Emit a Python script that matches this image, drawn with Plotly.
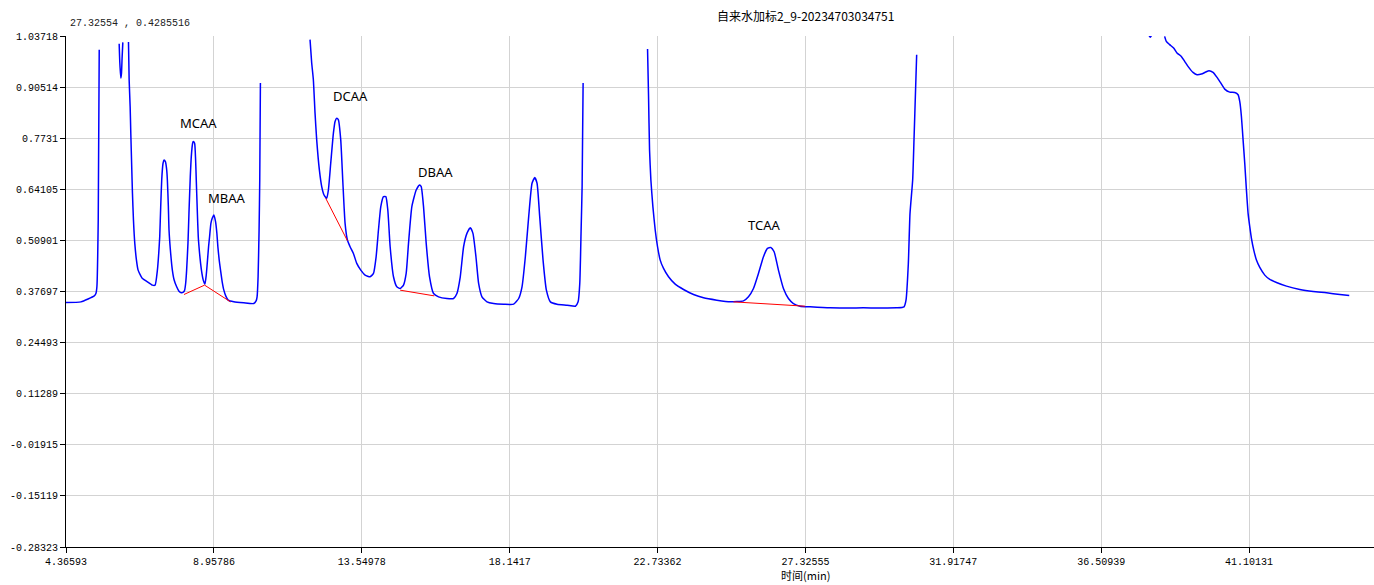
import plotly.graph_objects as go

# ---- tick definitions ----
x_tickvals = [4.36593, 8.95786, 13.54978, 18.1417, 22.73362, 27.32555, 31.91747, 36.50939, 41.10131]
x_ticktext = ["4.36593", "8.95786", "13.54978", "18.1417", "22.73362", "27.32555", "31.91747", "36.50939", "41.10131"]
y_tickvals = [1.03718, 0.90514, 0.7731, 0.64105, 0.50901, 0.37697, 0.24493, 0.11289, -0.01915, -0.15119, -0.28323]
y_ticktext = ["1.03718", "0.90514", "0.7731", "0.64105", "0.50901", "0.37697", "0.24493", "0.11289", "-0.01915", "-0.15119", "-0.28323"]
x_range = [4.36593, 44.98]
y_range = [-0.28323, 1.03718]

# ---- chromatogram segments (time, signal) ----
seg1_t = [4.3659, 4.8303, 5.2430, 5.2946, 5.3255, 5.3668, 5.3978]
seg1_v = [0.3485, 0.3502, 0.3657, 0.3718, 0.3891, 0.5616, 1.0018]

seg2_t = [6.0169, 6.0376, 6.0685, 6.0892, 6.1098, 6.1304]
seg2_v = [1.0173, 0.9673, 0.9284, 0.9414, 0.9845, 1.0208]

seg3_t = [6.3059, 6.3265, 6.3575, 6.3781, 6.4091, 6.4297, 6.4607, 6.5019, 6.5535, 6.6051,
          6.6877, 6.7393, 6.8941, 7.0488, 7.1314, 7.2036, 7.2449, 7.2759, 7.3068, 7.3378,
          7.3790, 7.4100, 7.4513, 7.4926, 7.5132, 7.5442, 7.5648, 7.6164, 7.6680, 7.7196,
          7.8021, 7.8744, 7.9466, 8.0085, 8.0498, 8.0807, 8.1117, 8.1530, 8.1839, 8.2252,
          8.2562, 8.2974, 8.3181, 8.3594, 8.3903, 8.4109, 8.4419, 8.4729, 8.5141, 8.5451,
          8.5864, 8.6276, 8.6792, 8.7205, 8.7515, 8.7928, 8.8237, 8.8650, 8.9063, 8.9579,
          9.0095, 9.0507, 9.0817, 9.1230, 9.1642, 9.2158, 9.2674, 9.3293, 9.4016, 9.5770,
          9.8866, 10.1961, 10.2684, 10.2993, 10.3303, 10.3612, 10.3819, 10.4025]
seg3_v = [1.0216, 0.9241, 0.8551, 0.7860, 0.6911, 0.6307, 0.5617, 0.5013, 0.4581, 0.4322,
          0.4175, 0.4106, 0.4020, 0.3934, 0.3934, 0.4322, 0.4753, 0.5185, 0.5962, 0.6652,
          0.7084, 0.7170, 0.7127, 0.6911, 0.6652, 0.5962, 0.5358, 0.4753, 0.4322, 0.4081,
          0.3891, 0.3778, 0.3735, 0.3752, 0.3804, 0.3977, 0.4322, 0.5013, 0.5789, 0.6739,
          0.7256, 0.7601, 0.7645, 0.7601, 0.7170, 0.6652, 0.5876, 0.5185, 0.4753, 0.4495,
          0.4236, 0.4063, 0.3960, 0.4193, 0.4495, 0.4926, 0.5185, 0.5530, 0.5660, 0.5746,
          0.5574, 0.5272, 0.4926, 0.4581, 0.4322, 0.4020, 0.3804, 0.3649, 0.3545, 0.3502,
          0.3476, 0.3459, 0.3528, 0.3632, 0.4150, 0.5358, 0.6652, 0.9155]

seg4_t = [11.9431, 11.9949, 12.0467, 12.0986, 12.1504, 12.2333, 12.3059, 12.3784, 12.4614, 12.5132,
          12.5858, 12.6687, 12.7205, 12.7723, 12.8242, 12.8967, 12.9589, 13.0315, 13.1041, 13.1870,
          13.2906, 13.3943, 13.5187, 13.6535, 13.8090, 13.9126, 13.9955, 14.0681, 14.1407, 14.2236,
          14.2962, 14.3583, 14.4309, 14.5346, 14.6382, 14.7419, 14.8456, 14.9285, 15.0010, 15.1047,
          15.2395, 15.3431, 15.3949, 15.4675, 15.5504, 15.6541, 15.7785, 15.9340, 16.1931, 16.4005,
          16.5041, 16.6078, 16.7114, 16.8151, 16.9188, 17.0017, 17.0950, 17.1779, 17.2816, 17.4371,
          17.6444, 17.9554, 18.2663, 18.4218, 18.5255, 18.6291, 18.7328, 18.8365, 18.9194, 18.9919,
          19.0749, 19.1785, 19.2822, 19.4066, 19.6139, 19.9249, 20.1840, 20.2670, 20.3188, 20.3603,
          20.3914, 20.4225]
seg4_v = [1.0277, 0.9673, 0.9241, 0.8378, 0.7688, 0.6911, 0.6480, 0.6264, 0.6178, 0.6393,
          0.7084, 0.7860, 0.8163, 0.8249, 0.8206, 0.7688, 0.6652, 0.5530, 0.5099, 0.4926,
          0.4753, 0.4495, 0.4322, 0.4193, 0.4150, 0.4236, 0.4668, 0.5358, 0.5962, 0.6221,
          0.6221, 0.5876, 0.4926, 0.4150, 0.3891, 0.3847, 0.3934, 0.4236, 0.5013, 0.5962,
          0.6393, 0.6523, 0.6480, 0.5962, 0.5013, 0.4150, 0.3718, 0.3632, 0.3589, 0.3589,
          0.3718, 0.4150, 0.4926, 0.5272, 0.5418, 0.5272, 0.4668, 0.3977, 0.3632, 0.3502,
          0.3459, 0.3442, 0.3442, 0.3589, 0.3891, 0.4668, 0.5703, 0.6566, 0.6713, 0.6566,
          0.5703, 0.4581, 0.3804, 0.3502, 0.3442, 0.3416, 0.3390, 0.3502, 0.3977, 0.5358,
          0.6480, 0.9155]

seg5_t = [22.4233, 22.4544, 22.4854, 22.5268, 22.5888, 22.6612, 22.7336, 22.8163, 22.9198, 23.0749,
          23.2817, 23.5403, 23.8505, 24.1608, 24.5745, 24.9882, 25.4018, 25.5570, 25.7121, 25.8672,
          26.0224, 26.1465, 26.2499, 26.3533, 26.4877, 26.6429, 26.7980, 26.9531, 27.1600, 27.4702,
          28.0908, 29.1250, 30.1592, 30.3867, 30.4487, 30.5211, 30.5728, 30.6556, 30.6969, 30.7487,
          30.7797]
seg5_v = [1.0035, 0.8810, 0.7429, 0.6652, 0.5962, 0.5358, 0.4926, 0.4581, 0.4365, 0.4150,
          0.3960, 0.3822, 0.3692, 0.3606, 0.3545, 0.3502, 0.3528, 0.3632, 0.3847, 0.4236,
          0.4668, 0.4883, 0.4909, 0.4797, 0.4322, 0.3847, 0.3589, 0.3459, 0.3390, 0.3373,
          0.3347, 0.3347, 0.3347, 0.3373, 0.3545, 0.4495, 0.5789, 0.6652, 0.7688, 0.9069,
          0.9889]

seg6_t = [37.9917, 38.0332, 38.0747]
seg6_v = [1.0390, 1.0337, 1.0390]

seg7_t = [38.4789, 38.5308, 38.6344, 38.7588, 38.8625, 38.9972, 39.1009, 39.2046, 39.3601, 39.4844,
          39.6192, 39.7540, 39.8576, 39.9820, 40.1064, 40.2101, 40.3448, 40.5003, 40.6558, 40.7595,
          40.8113, 40.8631, 40.9150, 40.9668, 41.0186, 41.0704, 41.1223, 41.1741, 41.2467, 41.3296,
          41.4333, 41.5888, 41.7442, 41.9516, 42.2625, 42.6772, 43.0918, 43.5065, 43.9211, 44.2114]
seg7_v = [1.0363, 1.0234, 1.0148, 1.0061, 0.9932, 0.9845, 0.9716, 0.9587, 0.9431, 0.9371,
          0.9388, 0.9440, 0.9474, 0.9431, 0.9302, 0.9172, 0.9000, 0.8922, 0.8913, 0.8853,
          0.8680, 0.8292, 0.7688, 0.7084, 0.6393, 0.5789, 0.5444, 0.5142, 0.4840, 0.4581,
          0.4391, 0.4193, 0.4081, 0.4003, 0.3908, 0.3822, 0.3770, 0.3735, 0.3692, 0.3666]

# ---- integration baselines (red) ----
base_t = [8.0291, 8.6689, 9.4738, None, 12.4303, 13.1041, None, 14.7419, 15.7992, None, 25.0916, 27.3151]
base_v = [0.3692, 0.3934, 0.3502, None, 0.6178, 0.5082, None, 0.3804, 0.3657, None, 0.3502, 0.3390]

# ---- peak labels ----
peak_names = ["MCAA", "MBAA", "DCAA", "DBAA", "TCAA"]
peak_label_t = [8.4767, 9.3770, 13.2115, 15.8506, 26.0343]
peak_label_v = [0.8127, 0.6186, 0.8834, 0.6866, 0.5487]

title_text = "自来水加标2_9-20234703034751"
cursor_text = "27.32554 , 0.4285516"
xaxis_title = "时间(min)"

segments = [(seg1_t, seg1_v), (seg2_t, seg2_v), (seg3_t, seg3_v), (seg4_t, seg4_v),
            (seg5_t, seg5_v), (seg6_t, seg6_v), (seg7_t, seg7_v)]
all_t, all_v = [], []
for t, v in segments:
    all_t += list(t) + [None]
    all_v += list(v) + [None]

fig = go.Figure()
fig.add_trace(go.Scatter(x=all_t, y=all_v, mode="lines", connectgaps=False,
                         line=dict(color="#0000FF", width=1.5, shape="spline", smoothing=0.5),
                         hoverinfo="skip", showlegend=False))
fig.add_trace(go.Scatter(x=base_t, y=base_v, mode="lines", connectgaps=False,
                         line=dict(color="#FF0000", width=1), hoverinfo="skip", showlegend=False))

annotations = []
for name, t, v in zip(peak_names, peak_label_t, peak_label_v):
    annotations.append(dict(x=t, y=v, xref="x", yref="y", text=name, showarrow=False,
                            font=dict(family="Noto Sans", size=13, color="black"),
                            xanchor="center", yanchor="middle"))
annotations.append(dict(x=0.565, y=1.041, xref="paper", yref="paper", text=title_text,
                        showarrow=False, font=dict(family="Noto Sans CJK SC", size=12, color="black"),
                        xanchor="center", yanchor="middle"))
annotations.append(dict(x=0.0015, y=1.0235, xref="paper", yref="paper", text=cursor_text,
                        showarrow=False, font=dict(family="Liberation Mono", size=10, color="#222222"),
                        xanchor="left", yanchor="middle"))
annotations.append(dict(x=0.565, y=-0.055, xref="paper", yref="paper", text=xaxis_title,
                        showarrow=False, font=dict(family="Noto Sans CJK SC", size=11, color="black"),
                        xanchor="center", yanchor="middle"))

axis_common = dict(showgrid=True, gridcolor="#d3d3d3", gridwidth=1, zeroline=False,
                   showline=True, linecolor="black", linewidth=1.2, ticks="outside",
                   ticklen=5, tickcolor="black", tickwidth=1,
                   tickfont=dict(family="Liberation Mono", size=10, color="black"))

fig.update_layout(
    width=1374, height=585,
    margin=dict(l=66, r=0, t=36, b=38),
    paper_bgcolor="white", plot_bgcolor="white",
    annotations=annotations,
    xaxis=dict(range=x_range, tickvals=x_tickvals, ticktext=x_ticktext, **axis_common),
    yaxis=dict(range=y_range, tickvals=y_tickvals, ticktext=y_ticktext, **axis_common),
)

fig.write_html("out.html", config={"displayModeBar": False},
               post_script="document.body.style.margin='0';document.body.style.overflow='hidden';")
